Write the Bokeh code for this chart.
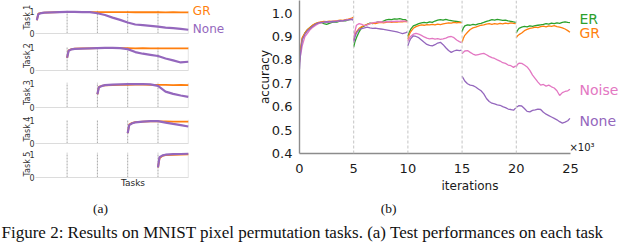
import numpy as np
from bokeh.plotting import figure
from bokeh.layouts import row, column
from bokeh.models import Range1d, FixedTicker, Span, PrintfTickFormatter
from bokeh.core.properties import value
from bokeh.embed import file_html
from bokeh.resources import INLINE

# ---------------- data: panel (b) accuracy vs iterations (x1000) ----------------
task_starts = [0, 5, 10, 15, 20]
seg_offsets = [0, 0.1, 0.25, 0.5, 0.75, 1.0, 1.25, 1.5, 1.75, 2.0, 2.25, 2.5,
               2.75, 3.0, 3.25, 3.5, 3.75, 4.0, 4.25, 4.5, 4.75, 4.95]
x_ticks_b = [0, 5, 10, 15, 20, 25]
y_ticks_b = [0.4, 0.5, 0.6, 0.7, 0.8, 0.9, 1.0]
boundaries_b = [5, 10, 15, 20]

er_acc = [
    [0.80, 0.84, 0.89, 0.915, 0.93, 0.94, 0.948, 0.955, 0.958, 0.96, 0.955, 0.952, 0.956, 0.96, 0.963, 0.962, 0.966, 0.968, 0.967, 0.971, 0.973, 0.975],
    [0.855, 0.875, 0.895, 0.92, 0.94, 0.945, 0.952, 0.957, 0.955, 0.958, 0.962, 0.96, 0.966, 0.971, 0.973, 0.972, 0.975, 0.974, 0.976, 0.973, 0.972, 0.966],
    [0.90, 0.915, 0.93, 0.945, 0.95, 0.955, 0.958, 0.96, 0.958, 0.962, 0.96, 0.966, 0.97, 0.972, 0.97, 0.973, 0.97, 0.968, 0.966, 0.964, 0.962, 0.96],
    [0.92, 0.935, 0.945, 0.95, 0.948, 0.952, 0.95, 0.954, 0.956, 0.96, 0.965, 0.968, 0.972, 0.97, 0.973, 0.971, 0.969, 0.97, 0.967, 0.965, 0.962, 0.96],
    [0.915, 0.925, 0.935, 0.94, 0.943, 0.941, 0.945, 0.943, 0.946, 0.948, 0.95, 0.952, 0.955, 0.953, 0.957, 0.955, 0.958, 0.956, 0.96, 0.962, 0.96, 0.959],
]
gr_acc = [
    [0.79, 0.85, 0.895, 0.915, 0.93, 0.94, 0.95, 0.956, 0.96, 0.962, 0.964, 0.963, 0.966, 0.965, 0.967, 0.968, 0.97, 0.969, 0.972, 0.974, 0.977, 0.982],
    [0.888, 0.905, 0.92, 0.935, 0.942, 0.948, 0.952, 0.955, 0.957, 0.955, 0.958, 0.96, 0.958, 0.96, 0.962, 0.96, 0.963, 0.961, 0.964, 0.962, 0.965, 0.963],
    [0.888, 0.905, 0.92, 0.935, 0.942, 0.946, 0.95, 0.948, 0.951, 0.95, 0.952, 0.95, 0.953, 0.951, 0.954, 0.956, 0.958, 0.957, 0.96, 0.958, 0.96, 0.958],
    [0.875, 0.89, 0.905, 0.918, 0.93, 0.937, 0.94, 0.944, 0.948, 0.95, 0.953, 0.955, 0.952, 0.955, 0.953, 0.956, 0.954, 0.957, 0.955, 0.958, 0.956, 0.955],
    [0.895, 0.902, 0.908, 0.915, 0.925, 0.93, 0.935, 0.937, 0.94, 0.938, 0.942, 0.944, 0.941, 0.945, 0.943, 0.946, 0.942, 0.94, 0.937, 0.932, 0.925, 0.918],
]
noise_acc = [
    [0.80, 0.82, 0.86, 0.90, 0.915, 0.93, 0.94, 0.948, 0.955, 0.958, 0.96, 0.962, 0.961, 0.964, 0.966, 0.965, 0.968, 0.967, 0.97, 0.972, 0.974, 0.976],
    [0.88, 0.92, 0.948, 0.955, 0.952, 0.946, 0.95, 0.955, 0.958, 0.96, 0.962, 0.963, 0.961, 0.964, 0.963, 0.965, 0.964, 0.966, 0.965, 0.967, 0.966, 0.965],
    [0.88, 0.89, 0.90, 0.91, 0.913, 0.91, 0.905, 0.898, 0.893, 0.89, 0.892, 0.889, 0.891, 0.888, 0.89, 0.893, 0.898, 0.90, 0.895, 0.885, 0.878, 0.874],
    [0.826, 0.832, 0.838, 0.84, 0.832, 0.825, 0.82, 0.823, 0.826, 0.828, 0.822, 0.815, 0.81, 0.806, 0.80, 0.795, 0.788, 0.785, 0.778, 0.775, 0.768, 0.775],
    [0.77, 0.78, 0.786, 0.785, 0.778, 0.77, 0.755, 0.735, 0.72, 0.705, 0.692, 0.695, 0.688, 0.692, 0.685, 0.68, 0.668, 0.648, 0.66, 0.665, 0.668, 0.675],
]
none_acc = [
    [0.76, 0.83, 0.885, 0.91, 0.925, 0.935, 0.945, 0.953, 0.958, 0.96, 0.961, 0.963, 0.962, 0.964, 0.963, 0.966, 0.968, 0.967, 0.97, 0.971, 0.973, 0.97],
    [0.875, 0.895, 0.915, 0.93, 0.934, 0.937, 0.94, 0.937, 0.935, 0.936, 0.934, 0.932, 0.93, 0.928, 0.926, 0.924, 0.922, 0.92, 0.916, 0.912, 0.915, 0.92],
    [0.86, 0.875, 0.89, 0.903, 0.90, 0.895, 0.885, 0.875, 0.866, 0.862, 0.86, 0.865, 0.872, 0.875, 0.865, 0.852, 0.84, 0.832, 0.838, 0.842, 0.84, 0.842],
    [0.73, 0.722, 0.71, 0.698, 0.692, 0.69, 0.684, 0.676, 0.668, 0.655, 0.635, 0.622, 0.615, 0.612, 0.608, 0.606, 0.60, 0.596, 0.59, 0.588, 0.585, 0.595],
    [0.598, 0.60, 0.605, 0.603, 0.592, 0.58, 0.578, 0.584, 0.586, 0.59, 0.588, 0.576, 0.568, 0.562, 0.556, 0.55, 0.544, 0.536, 0.53, 0.534, 0.54, 0.55],
]
methods_b = ["ER", "GR", "Noise", "None"]

# ---------------- data: panel (a) per-task test accuracy ----------------
task_names = ["Task 1", "Task 2", "Task 3", "Task 4", "Task 5"]
task_begin = [0, 1, 2, 3, 4]
early_offsets = [0, 0.05, 0.15]
grid_a = [0.25, 0.5, 0.75, 1.0, 1.25, 1.5, 1.75, 2.0, 2.25, 2.5, 2.75, 3.0,
          3.25, 3.5, 3.75, 4.0, 4.25, 4.5, 4.75, 5.0]
boundaries_a = [1, 2, 3, 4]
gr_task = [
    [0.60, 0.90, 0.94, 0.95, 0.96, 0.97, 0.975, 0.98, 0.98, 0.975, 0.975, 0.97, 0.975, 0.97, 0.97, 0.965, 0.97, 0.965, 0.965, 0.96, 0.965, 0.96, 0.96],
    [0.55, 0.88, 0.93, 0.95, 0.96, 0.965, 0.97, 0.975, 0.975, 0.97, 0.97, 0.965, 0.97, 0.965, 0.965, 0.96, 0.965, 0.96, 0.96],
    [0.55, 0.86, 0.90, 0.92, 0.93, 0.94, 0.945, 0.95, 0.95, 0.945, 0.94, 0.94, 0.935, 0.94, 0.935],
    [0.45, 0.82, 0.90, 0.93, 0.95, 0.96, 0.965, 0.96, 0.955, 0.95, 0.95],
    [0.42, 0.80, 0.90, 0.93, 0.94, 0.95, 0.96],
]
none_task = [
    [0.60, 0.88, 0.93, 0.95, 0.96, 0.97, 0.98, 0.98, 0.975, 0.97, 0.92, 0.84, 0.72, 0.62, 0.50, 0.41, 0.38, 0.35, 0.31, 0.27, 0.24, 0.21, 0.17],
    [0.55, 0.86, 0.92, 0.94, 0.95, 0.96, 0.97, 0.98, 0.98, 0.97, 0.93, 0.80, 0.73, 0.68, 0.63, 0.52, 0.44, 0.35, 0.38],
    [0.55, 0.84, 0.90, 0.93, 0.95, 0.96, 0.97, 0.975, 0.98, 0.965, 0.90, 0.66, 0.57, 0.50, 0.44],
    [0.45, 0.80, 0.88, 0.92, 0.95, 0.97, 0.97, 0.91, 0.85, 0.80, 0.74],
    [0.42, 0.85, 0.92, 0.95, 0.97, 0.98, 0.99],
]
methods_a = ["GR", "None"]

# ---------------- styling ----------------
COL = {"ER": "#2ca02c", "GR": "#ff7f0e", "Noise": "#e377c2", "None": "#9467bd"}
SANS = "DejaVu Sans"
SERIF = "Liberation Serif"

# ---------------- panel (a): five stacked small plots ----------------
# figure height, bottom border, pixels per unit accuracy (layout only)
left_heights = [40, 37, 37, 36, 45]
left_bottoms = [7, 7, 7, 7, 18]
left_scale = [22.0, 23.0, 24.0, 23.0, 24.0]

small_figs = []
for k in range(5):
    h = left_heights[k]
    mb = left_bottoms[k]
    f = figure(width=230, height=h, x_range=Range1d(-0.043, 6.393),
               y_range=Range1d(0, (h - mb) / left_scale[k]),
               output_backend="svg", toolbar_location=None,
               min_border_left=35, min_border_right=0, min_border_top=0,
               min_border_bottom=mb)
    f.outline_line_color = None
    f.grid.visible = False
    f.xaxis.ticker = FixedTicker(ticks=[])
    f.xaxis.bounds = (-0.2, 5)
    f.xaxis.axis_line_color = "#dcdcdc"
    f.xaxis.axis_line_width = 1
    f.xaxis.major_tick_line_color = None
    f.xaxis.minor_tick_line_color = None
    f.xaxis.major_tick_out = 0
    f.xaxis.major_tick_in = 0
    f.xaxis.major_label_standoff = 0
    f.xaxis.axis_label_standoff = 0
    if k == 4:
        f.xaxis.axis_label = "Tasks"
        f.xaxis.axis_label_text_font = SANS
        f.xaxis.axis_label_text_font_size = "9px"
        f.xaxis.axis_label_text_font_style = "normal"
        f.xaxis.axis_label_text_color = "#262626"
    f.yaxis.ticker = FixedTicker(ticks=[0, 1])
    f.yaxis.bounds = (0, 1)
    f.yaxis.axis_line_color = None
    f.yaxis.major_tick_line_color = None
    f.yaxis.minor_tick_line_color = None
    f.yaxis.major_tick_out = 0
    f.yaxis.major_tick_in = 0
    f.yaxis.major_label_text_font = SANS
    f.yaxis.major_label_text_font_size = "8px"
    f.yaxis.major_label_text_color = "#333333"
    f.yaxis.major_label_standoff = 1
    f.yaxis.axis_label = task_names[k]
    f.yaxis.axis_label_text_font = SANS
    f.yaxis.axis_label_text_font_size = "8px"
    f.yaxis.axis_label_text_font_style = "normal"
    f.yaxis.axis_label_text_color = "#333333"
    f.yaxis.axis_label_standoff = -6

    f.segment(x0=boundaries_a, y0=0, x1=boundaries_a, y1=1.03,
              line_color="#a8a8a8", line_width=1, line_dash="2 1")
    f.segment(x0=[grid_a[-1]], y0=0, x1=[grid_a[-1]], y1=1.03,
              line_color="#e4e4e4", line_width=1)

    s = task_begin[k]
    tx = [s + o for o in early_offsets] + [g for g in grid_a if g >= s + 0.25 - 1e-9]
    f.line(tx, gr_task[k], line_color=COL["GR"], line_width=1.8)
    f.line(tx, none_task[k], line_color=COL["None"], line_width=2.2)

    if k == 0:
        f.text(x=[5.15, 5.15], y=[1.045, 0.227], text=methods_a,
               text_color=[COL[m] for m in methods_a],
               text_font=value(SANS), text_font_size="12px",
               text_baseline="middle", text_align="left")
    small_figs.append(f)

left_col = column(*small_figs, spacing=0)

# ---------------- panel (b): accuracy vs iterations ----------------
p = figure(width=410, height=195, x_range=Range1d(0, 31.46),
           y_range=Range1d(0.4, 1.0538), output_backend="svg",
           toolbar_location=None, min_border_left=69, min_border_right=0,
           min_border_top=0, min_border_bottom=37)
p.outline_line_color = None
p.grid.visible = False
p.xaxis.bounds = (0, 25)
p.xaxis.ticker = FixedTicker(ticks=x_ticks_b)
p.yaxis.ticker = FixedTicker(ticks=y_ticks_b)
p.yaxis.formatter = PrintfTickFormatter(format="%.1f")
for ax in (p.xaxis, p.yaxis):
    ax.axis_line_color = "#8c8c8c"
    ax.axis_line_width = 1.4
    ax.major_tick_line_color = None
    ax.minor_tick_line_color = None
    ax.major_tick_out = 0
    ax.major_tick_in = 0
    ax.major_label_text_font = SANS
    ax.major_label_text_font_size = "13px"
    ax.major_label_text_color = "#1a1a1a"
    ax.axis_label_text_font = SANS
    ax.axis_label_text_font_size = "12px"
    ax.axis_label_text_font_style = "normal"
    ax.axis_label_text_color = "#1a1a1a"
p.xaxis.axis_label = "iterations"
p.yaxis.axis_label = "accuracy"
p.xaxis.major_label_standoff = 10
p.xaxis.axis_label_standoff = 3
p.yaxis.major_label_standoff = 7
p.yaxis.axis_label_standoff = -3

for b in boundaries_b:
    p.add_layout(Span(location=b, dimension="height", line_color="#c4c4c4",
                      line_width=1, line_dash="3 2"))

def joined(segs):
    xs, ys = [], []
    for s, seg in zip(task_starts, segs):
        xs += [s + o for o in seg_offsets] + [np.nan]
        ys += list(seg) + [np.nan]
    return np.array(xs), np.array(ys)

for name, segs in (("ER", er_acc), ("GR", gr_acc), ("Noise", noise_acc), ("None", none_acc)):
    xs, ys = joined(segs)
    p.line(xs, ys, line_color=COL[name], line_width=1.3)

label_y_b = [0.976, 0.913, 0.673, 0.541]
p.text(x=[25.83] * 4, y=label_y_b, text=methods_b,
       text_color=[COL[m] for m in methods_b], text_font=value(SANS),
       text_font_size="14px", text_baseline="middle", text_align="left")
p.text(x=[24.9], y=[0.425], text=["×10³"], text_color="#1a1a1a",
       text_font=value(SANS), text_font_size="10px", text_baseline="middle",
       text_align="left")

# ---------------- captions strip ----------------
cap = figure(width=640, height=49, x_range=Range1d(0, 640), y_range=Range1d(0, 49),
             x_axis_type=None, y_axis_type=None, output_backend="svg",
             toolbar_location=None, min_border=0)
cap.outline_line_color = None
cap.grid.visible = False
cap.text(x=[100, 388], y=[36, 36], text=["(a)", "(b)"], text_color="#111111",
         text_font=value(SERIF), text_font_size="13.5px", text_baseline="middle",
         text_align="center")
cap.text(x=[1], y=[3], text=["Figure 2: Results on MNIST pixel permutation tasks. (a) Test performances on each task"],
         text_color="#111111", text_font=value(SERIF), text_font_size="17px",
         text_baseline="bottom", text_align="left")

layout = column(row(left_col, p, spacing=0), cap, spacing=0)

open("out.html", "w").write(file_html(layout, INLINE))
